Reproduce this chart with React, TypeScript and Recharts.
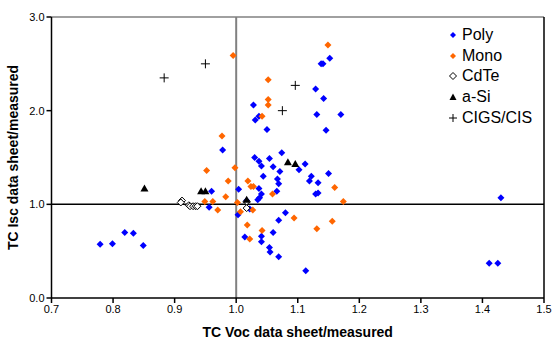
import {
  ScatterChart,
  Scatter,
  XAxis,
  YAxis,
  ReferenceLine,
  Legend,
} from "recharts";

// [TC Voc ratio, TC Isc ratio]
const poly: [number, number][] = [
  [1.028, 2.06], [1.037, 1.94], [1.031, 1.9], [1.05, 1.8], [0.978, 1.58],
  [1.03, 1.5], [1.054, 1.49], [1.152, 2.56], [1.138, 2.5], [1.141, 2.5],
  [1.129, 2.23], [1.142, 2.13], [1.131, 1.96], [1.17, 1.96], [1.146, 1.79],
  [1.074, 1.55], [1.037, 1.46], [1.041, 1.41], [1.06, 1.4], [1.044, 1.3],
  [1.067, 1.27], [1.069, 1.22], [1.037, 1.17], [1.004, 1.16], [0.96, 1.14],
  [1.041, 1.11], [1.066, 1.14], [1.038, 1.07], [1.035, 1.05], [1.017, 1.04],
  [0.956, 0.97], [1.022, 0.95], [1.003, 0.89], [1.069, 0.83], [0.819, 0.7],
  [0.833, 0.69], [1.06, 0.7], [1.014, 0.65], [1.041, 0.66], [1.041, 0.6],
  [0.779, 0.575], [0.799, 0.58], [0.849, 0.56], [1.054, 0.54], [1.055, 0.49],
  [1.069, 0.44], [1.112, 1.43], [1.102, 1.37], [1.071, 1.35], [1.15, 1.33],
  [1.122, 1.3], [1.119, 1.25], [1.133, 1.23], [1.129, 1.11], [1.133, 1.12],
  [1.08, 0.91], [1.113, 0.29], [1.43, 1.07], [1.411, 0.37], [1.425, 0.37],
];

const mono: [number, number][] = [
  [0.995, 2.59], [1.052, 2.33], [1.052, 2.12], [1.052, 2.06], [1.042, 1.94],
  [0.977, 1.73], [1.149, 2.7], [0.998, 1.39], [0.952, 1.36], [0.987, 1.25],
  [1.019, 1.25], [1.024, 1.19], [1.028, 1.19], [1.059, 1.11], [0.983, 1.08],
  [0.949, 1.03], [0.962, 1.03], [1.002, 1.02], [0.97, 0.94], [1.007, 0.92],
  [1.027, 0.94], [1.018, 0.78], [1.042, 0.72], [1.022, 0.63], [1.16, 1.18],
  [1.174, 1.03], [1.094, 0.855], [1.156, 0.82], [1.131, 0.74],
];

const cdte: [number, number][] = [
  [0.912, 1.04], [0.91, 1.02], [0.923, 0.99], [0.925, 0.98], [0.93, 0.98],
  [0.934, 0.98], [0.937, 0.98], [1.017, 0.96], [1.017, 1.03],
];

const aSi: [number, number][] = [
  [0.851, 1.17], [0.943, 1.14], [0.95, 1.14], [1.084, 1.45], [1.096, 1.43],
  [1.017, 1.05],
];

const cigs: [number, number][] = [
  [0.95, 2.5], [0.883, 2.35], [1.096, 2.27], [1.075, 2.0],
];

const xTicks = [0.7, 0.8, 0.9, 1.0, 1.1, 1.2, 1.3, 1.4, 1.5];
const yTicks = [0, 1, 2, 3];

const toPts = (arr: [number, number][]) => arr.map(([x, y]) => ({ x, y }));

const Diamond = (fill: string, stroke: string, r: number) => (p: any) => (
  <polygon
    points={`${p.cx},${p.cy - r} ${p.cx + r},${p.cy} ${p.cx},${p.cy + r} ${p.cx - r},${p.cy}`}
    fill={fill}
    stroke={stroke}
    strokeWidth={1}
  />
);

const Triangle = (p: any) => (
  <polygon
    points={`${p.cx},${p.cy - 4} ${p.cx + 4},${p.cy + 3} ${p.cx - 4},${p.cy + 3}`}
    fill="#000"
  />
);

const Plus = (p: any) => (
  <path
    d={`M${p.cx - 4.5},${p.cy}H${p.cx + 4.5}M${p.cx},${p.cy - 4.5}V${p.cy + 4.5}`}
    stroke="#000"
    strokeWidth={1}
  />
);

const legendItems = [
  { name: "Poly", mark: <polygon points="5,2 8,5 5,8 2,5" fill="#0000FF" /> },
  { name: "Mono", mark: <polygon points="5,2 8,5 5,8 2,5" fill="#FF6600" /> },
  { name: "CdTe", mark: <polygon points="5,1.5 8.5,5 5,8.5 1.5,5" fill="#fff" stroke="#000" /> },
  { name: "a-Si", mark: <polygon points="5,1.5 8.5,8 1.5,8" fill="#000" /> },
  { name: "CIGS/CIS", mark: <path d="M1,5H9M5,1V9" stroke="#000" /> },
];

const LegendBox = () => (
  <div style={{ fontFamily: "Liberation Sans, Arial, sans-serif", fontSize: 16 }}>
    {legendItems.map((it) => (
      <div key={it.name} style={{ display: "flex", alignItems: "center", height: 20.6 }}>
        <svg width={10} height={10} style={{ marginRight: 4 }}>
          {it.mark}
        </svg>
        <span>{it.name}</span>
      </div>
    ))}
  </div>
);

const App = () => {
  return (
    <div style={{ position: "absolute", left: 0, top: 0, background: "#fff" }}>
      <ScatterChart
        width={554}
        height={342}
        margin={{ top: 17, right: 10, left: 0, bottom: 0 }}
        style={{ fontFamily: "Liberation Sans, Arial, sans-serif" }}
      >
        <XAxis
          type="number"
          dataKey="x"
          domain={[0.7, 1.5]}
          ticks={xTicks}
          tickFormatter={(v: number) => v.toFixed(1)}
          height={44}
          stroke="#000"
          strokeWidth={1.5}
          tick={{ fill: "#000", fontSize: 11 }}
          tickSize={5}
          label={{
            value: "TC Voc data sheet/measured",
            position: "insideBottom",
            offset: 5,
            fill: "#000",
            fontSize: 14,
            fontWeight: "bold",
          }}
        />
        <YAxis
          type="number"
          dataKey="y"
          domain={[0, 3]}
          ticks={yTicks}
          tickFormatter={(v: number) => v.toFixed(1)}
          width={51.5}
          stroke="#000"
          strokeWidth={1.5}
          tick={{ fill: "#000", fontSize: 11 }}
          tickSize={5}
          label={{
            value: "TC Isc data sheet/measured",
            angle: -90,
            position: "insideLeft",
            offset: 13,
            style: { textAnchor: "middle" },
            fill: "#000",
            fontSize: 14,
            fontWeight: "bold",
          }}
        />
        <ReferenceLine y={3} stroke="#808080" strokeWidth={1.5} />
        <ReferenceLine x={1.5} stroke="#000" strokeWidth={1.5} />
        <ReferenceLine x={1} stroke="#808080" strokeWidth={2} />
        <ReferenceLine y={1} stroke="#000" strokeWidth={1.5} />
        <Legend
          layout="horizontal"
          align="center"
          verticalAlign="middle"
          content={<LegendBox />}
          wrapperStyle={{ left: 448, top: 25, width: 100 }}
        />
        <Scatter name="Poly" data={toPts(poly)} shape={Diamond("#0000FF", "none", 3.5)} isAnimationActive={false} />
        <Scatter name="Mono" data={toPts(mono)} shape={Diamond("#FF6600", "none", 3.5)} isAnimationActive={false} />
        <Scatter name="CdTe" data={toPts(cdte)} shape={Diamond("#fff", "#000", 3.5)} isAnimationActive={false} />
        <Scatter name="a-Si" data={toPts(aSi)} shape={Triangle} isAnimationActive={false} />
        <Scatter name="CIGS/CIS" data={toPts(cigs)} shape={Plus} isAnimationActive={false} />
      </ScatterChart>
    </div>
  );
};

export default App;
